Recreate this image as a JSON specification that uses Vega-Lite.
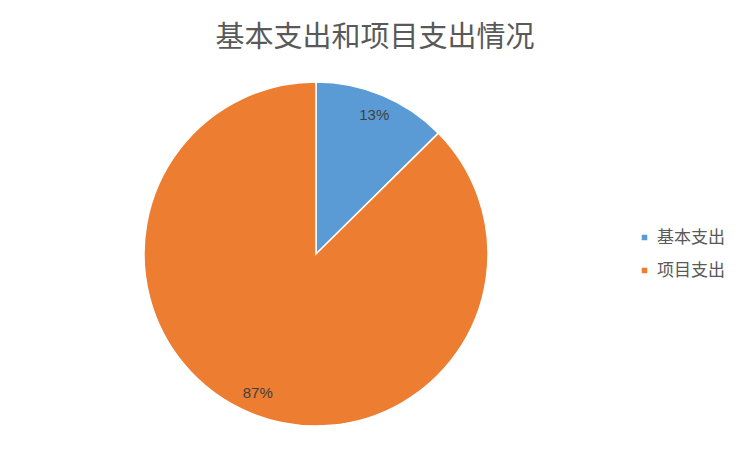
{
  "$schema": "https://vega.github.io/schema/vega-lite/v6.json",
  "autosize": "none",
  "padding": {"top": 82, "left": 0, "right": 120, "bottom": 26},
  "width": 632,
  "height": 344,
  "background": "white",
  "title": {
    "text": "基本支出和项目支出情况",
    "font": "Noto Sans CJK SC",
    "fontSize": 29,
    "fontWeight": "normal",
    "color": "#595959",
    "anchor": "middle",
    "dx": 59,
    "offset": 26
  },
  "data": {
    "values": [
      {"type": "基本支出", "share": 12.6, "label": "13%", "rank": 1},
      {"type": "项目支出", "share": 87.4, "label": "87%", "rank": 2}
    ]
  },
  "encoding": {
    "theta": {"field": "share", "type": "quantitative", "stack": true},
    "order": {"field": "rank", "type": "quantitative"},
    "color": {
      "field": "type",
      "type": "nominal",
      "scale": {"domain": ["基本支出", "项目支出"], "range": ["#5B9BD5", "#ED7D31"]},
      "legend": {
        "title": null,
        "orient": "none",
        "legendX": 636,
        "legendY": 147,
        "symbolType": "square",
        "symbolSize": 50,
        "rowPadding": 15,
        "labelFont": "Noto Sans CJK SC",
        "labelFontSize": 17,
        "labelColor": "#595959",
        "labelOffset": 4
      }
    }
  },
  "layer": [
    {"mark": {"type": "arc", "outerRadius": 172, "stroke": "white", "strokeWidth": 1.5}},
    {
      "mark": {"type": "text", "radius": 151, "font": "Liberation Sans", "fontSize": 15, "color": "#404040"},
      "encoding": {"text": {"field": "label"}, "color": {"value": "#404040"}}
    }
  ],
  "config": {"view": {"stroke": null}}
}
